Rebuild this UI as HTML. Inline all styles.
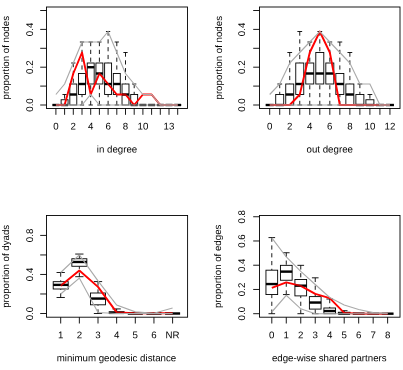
<!DOCTYPE html>
<html><head><meta charset="utf-8"><style>
html,body{margin:0;padding:0;background:#fff;}
svg{display:block;font-family:"Liberation Sans",sans-serif;opacity:0.999;}
text{fill:#000;text-rendering:geometricPrecision;}
</style></head><body>
<svg width="403" height="370" viewBox="0 0 403 370">
<rect width="403" height="370" fill="#fff"/>
<line x1="52.42" y1="105.00" x2="59.38" y2="105.00" stroke="#000" stroke-width="2.3" />
<line x1="64.60" y1="94.50" x2="64.60" y2="99.75" stroke="#000" stroke-width="0.9" stroke-dasharray="4.2,3.6"/>
<line x1="62.86" y1="94.50" x2="66.34" y2="94.50" stroke="#000" stroke-width="0.9" stroke-linecap="round"/>
<rect x="61.12" y="99.75" width="6.95" height="5.25" fill="#fff" stroke="#000" stroke-width="0.9"/>
<line x1="61.12" y1="105.00" x2="68.07" y2="105.00" stroke="#000" stroke-width="2.3" />
<line x1="73.30" y1="63.00" x2="73.30" y2="84.00" stroke="#000" stroke-width="0.9" stroke-dasharray="4.2,3.6"/>
<line x1="71.56" y1="63.00" x2="75.04" y2="63.00" stroke="#000" stroke-width="0.9" stroke-linecap="round"/>
<rect x="69.83" y="84.00" width="6.95" height="21.00" fill="#fff" stroke="#000" stroke-width="0.9"/>
<line x1="69.83" y1="94.50" x2="76.77" y2="94.50" stroke="#000" stroke-width="2.3" />
<line x1="82.00" y1="42.00" x2="82.00" y2="73.50" stroke="#000" stroke-width="0.9" stroke-dasharray="4.2,3.6"/>
<line x1="80.26" y1="42.00" x2="83.74" y2="42.00" stroke="#000" stroke-width="0.9" stroke-linecap="round"/>
<line x1="82.00" y1="105.00" x2="82.00" y2="94.50" stroke="#000" stroke-width="0.9" stroke-dasharray="4.2,3.6"/>
<line x1="80.26" y1="105.00" x2="83.74" y2="105.00" stroke="#000" stroke-width="0.9" stroke-linecap="round"/>
<rect x="78.53" y="73.50" width="6.95" height="21.00" fill="#fff" stroke="#000" stroke-width="0.9"/>
<line x1="78.53" y1="84.00" x2="85.47" y2="84.00" stroke="#000" stroke-width="2.3" />
<line x1="90.70" y1="42.00" x2="90.70" y2="63.00" stroke="#000" stroke-width="0.9" stroke-dasharray="4.2,3.6"/>
<line x1="88.96" y1="42.00" x2="92.44" y2="42.00" stroke="#000" stroke-width="0.9" stroke-linecap="round"/>
<line x1="90.70" y1="105.00" x2="90.70" y2="84.00" stroke="#000" stroke-width="0.9" stroke-dasharray="4.2,3.6"/>
<line x1="88.96" y1="105.00" x2="92.44" y2="105.00" stroke="#000" stroke-width="0.9" stroke-linecap="round"/>
<rect x="87.22" y="63.00" width="6.95" height="21.00" fill="#fff" stroke="#000" stroke-width="0.9"/>
<line x1="87.22" y1="67.20" x2="94.17" y2="67.20" stroke="#000" stroke-width="2.3" />
<line x1="99.40" y1="42.00" x2="99.40" y2="63.00" stroke="#000" stroke-width="0.9" stroke-dasharray="4.2,3.6"/>
<line x1="97.66" y1="42.00" x2="101.14" y2="42.00" stroke="#000" stroke-width="0.9" stroke-linecap="round"/>
<line x1="99.40" y1="105.00" x2="99.40" y2="84.00" stroke="#000" stroke-width="0.9" stroke-dasharray="4.2,3.6"/>
<line x1="97.66" y1="105.00" x2="101.14" y2="105.00" stroke="#000" stroke-width="0.9" stroke-linecap="round"/>
<rect x="95.93" y="63.00" width="6.95" height="21.00" fill="#fff" stroke="#000" stroke-width="0.9"/>
<line x1="95.93" y1="73.50" x2="102.88" y2="73.50" stroke="#000" stroke-width="2.3" />
<line x1="108.10" y1="31.50" x2="108.10" y2="63.00" stroke="#000" stroke-width="0.9" stroke-dasharray="4.2,3.6"/>
<line x1="106.36" y1="31.50" x2="109.84" y2="31.50" stroke="#000" stroke-width="0.9" stroke-linecap="round"/>
<line x1="108.10" y1="105.00" x2="108.10" y2="94.50" stroke="#000" stroke-width="0.9" stroke-dasharray="4.2,3.6"/>
<line x1="106.36" y1="105.00" x2="109.84" y2="105.00" stroke="#000" stroke-width="0.9" stroke-linecap="round"/>
<rect x="104.62" y="63.00" width="6.95" height="31.50" fill="#fff" stroke="#000" stroke-width="0.9"/>
<line x1="104.62" y1="84.00" x2="111.57" y2="84.00" stroke="#000" stroke-width="2.3" />
<line x1="116.80" y1="42.00" x2="116.80" y2="73.50" stroke="#000" stroke-width="0.9" stroke-dasharray="4.2,3.6"/>
<line x1="115.06" y1="42.00" x2="118.54" y2="42.00" stroke="#000" stroke-width="0.9" stroke-linecap="round"/>
<line x1="116.80" y1="105.00" x2="116.80" y2="94.50" stroke="#000" stroke-width="0.9" stroke-dasharray="4.2,3.6"/>
<line x1="115.06" y1="105.00" x2="118.54" y2="105.00" stroke="#000" stroke-width="0.9" stroke-linecap="round"/>
<rect x="113.32" y="73.50" width="6.95" height="21.00" fill="#fff" stroke="#000" stroke-width="0.9"/>
<line x1="113.32" y1="84.00" x2="120.27" y2="84.00" stroke="#000" stroke-width="2.3" />
<line x1="125.50" y1="52.50" x2="125.50" y2="84.00" stroke="#000" stroke-width="0.9" stroke-dasharray="4.2,3.6"/>
<line x1="123.76" y1="52.50" x2="127.24" y2="52.50" stroke="#000" stroke-width="0.9" stroke-linecap="round"/>
<rect x="122.03" y="84.00" width="6.95" height="21.00" fill="#fff" stroke="#000" stroke-width="0.9"/>
<line x1="122.03" y1="94.50" x2="128.97" y2="94.50" stroke="#000" stroke-width="2.3" />
<line x1="134.20" y1="84.00" x2="134.20" y2="94.50" stroke="#000" stroke-width="0.9" stroke-dasharray="4.2,3.6"/>
<line x1="132.46" y1="84.00" x2="135.94" y2="84.00" stroke="#000" stroke-width="0.9" stroke-linecap="round"/>
<rect x="130.72" y="94.50" width="6.95" height="10.50" fill="#fff" stroke="#000" stroke-width="0.9"/>
<line x1="130.72" y1="105.00" x2="137.67" y2="105.00" stroke="#000" stroke-width="2.3" />
<line x1="139.43" y1="105.00" x2="146.38" y2="105.00" stroke="#000" stroke-width="2.3" />
<line x1="148.12" y1="105.00" x2="155.07" y2="105.00" stroke="#000" stroke-width="2.3" />
<line x1="156.82" y1="105.00" x2="163.77" y2="105.00" stroke="#000" stroke-width="2.3" />
<line x1="165.53" y1="105.00" x2="172.47" y2="105.00" stroke="#000" stroke-width="2.3" />
<line x1="174.22" y1="105.00" x2="181.17" y2="105.00" stroke="#000" stroke-width="2.3" />
<polyline points="55.90,105.00 64.60,105.00 73.30,73.50 82.00,52.50 90.70,94.50 99.40,73.50 108.10,84.00 116.80,94.50 125.50,94.50 134.20,105.00 142.90,94.50 151.60,94.50 160.30,105.00 169.00,105.00 177.70,105.00" fill="none" stroke="#ff0000" stroke-width="1.9" stroke-linejoin="round"/>
<line x1="52.42" y1="105.00" x2="59.38" y2="105.00" stroke="#000" stroke-width="2.3" stroke-opacity="0.3"/>
<line x1="61.12" y1="105.00" x2="68.07" y2="105.00" stroke="#000" stroke-width="2.3" stroke-opacity="0.3"/>
<line x1="69.83" y1="94.50" x2="76.77" y2="94.50" stroke="#000" stroke-width="2.3" stroke-opacity="0.3"/>
<line x1="78.53" y1="84.00" x2="85.47" y2="84.00" stroke="#000" stroke-width="2.3" stroke-opacity="0.3"/>
<line x1="87.22" y1="67.20" x2="94.17" y2="67.20" stroke="#000" stroke-width="2.3" stroke-opacity="0.3"/>
<line x1="95.93" y1="73.50" x2="102.88" y2="73.50" stroke="#000" stroke-width="2.3" stroke-opacity="0.3"/>
<line x1="104.62" y1="84.00" x2="111.57" y2="84.00" stroke="#000" stroke-width="2.3" stroke-opacity="0.3"/>
<line x1="113.32" y1="84.00" x2="120.27" y2="84.00" stroke="#000" stroke-width="2.3" stroke-opacity="0.3"/>
<line x1="122.03" y1="94.50" x2="128.97" y2="94.50" stroke="#000" stroke-width="2.3" stroke-opacity="0.3"/>
<line x1="130.72" y1="105.00" x2="137.67" y2="105.00" stroke="#000" stroke-width="2.3" stroke-opacity="0.3"/>
<line x1="139.43" y1="105.00" x2="146.38" y2="105.00" stroke="#000" stroke-width="2.3" stroke-opacity="0.3"/>
<line x1="148.12" y1="105.00" x2="155.07" y2="105.00" stroke="#000" stroke-width="2.3" stroke-opacity="0.3"/>
<line x1="156.82" y1="105.00" x2="163.77" y2="105.00" stroke="#000" stroke-width="2.3" stroke-opacity="0.3"/>
<line x1="165.53" y1="105.00" x2="172.47" y2="105.00" stroke="#000" stroke-width="2.3" stroke-opacity="0.3"/>
<line x1="174.22" y1="105.00" x2="181.17" y2="105.00" stroke="#000" stroke-width="2.3" stroke-opacity="0.3"/>
<polyline points="55.90,94.50 64.60,84.00 73.30,63.00 82.00,42.00 90.70,42.00 99.40,42.00 108.10,31.50 116.80,52.50 125.50,73.50 134.20,84.00 142.90,94.50 151.60,94.50 160.30,105.00 169.00,105.00 177.70,105.00" fill="none" stroke="#aaaaaa" stroke-width="1.15" />
<polyline points="55.90,105.00 64.60,105.00 73.30,105.00 82.00,105.00 90.70,94.50 99.40,105.00 108.10,105.00 116.80,105.00 125.50,105.00 134.20,105.00 142.90,105.00 151.60,105.00 160.30,105.00 169.00,105.00 177.70,105.00" fill="none" stroke="#aaaaaa" stroke-width="1.15" />
<rect x="46.5" y="7.0" width="141.0" height="101.5" fill="none" stroke="#000" stroke-width="0.9"/>
<line x1="40.20" y1="105.00" x2="46.50" y2="105.00" stroke="#000" stroke-width="0.9" />
<line x1="40.20" y1="86.10" x2="46.50" y2="86.10" stroke="#000" stroke-width="0.9" />
<line x1="40.20" y1="67.20" x2="46.50" y2="67.20" stroke="#000" stroke-width="0.9" />
<line x1="40.20" y1="48.30" x2="46.50" y2="48.30" stroke="#000" stroke-width="0.9" />
<line x1="40.20" y1="29.40" x2="46.50" y2="29.40" stroke="#000" stroke-width="0.9" />
<line x1="40.20" y1="10.50" x2="46.50" y2="10.50" stroke="#000" stroke-width="0.9" />
<line x1="55.90" y1="108.50" x2="55.90" y2="114.80" stroke="#000" stroke-width="0.9" />
<line x1="64.60" y1="108.50" x2="64.60" y2="114.80" stroke="#000" stroke-width="0.9" />
<line x1="73.30" y1="108.50" x2="73.30" y2="114.80" stroke="#000" stroke-width="0.9" />
<line x1="82.00" y1="108.50" x2="82.00" y2="114.80" stroke="#000" stroke-width="0.9" />
<line x1="90.70" y1="108.50" x2="90.70" y2="114.80" stroke="#000" stroke-width="0.9" />
<line x1="99.40" y1="108.50" x2="99.40" y2="114.80" stroke="#000" stroke-width="0.9" />
<line x1="108.10" y1="108.50" x2="108.10" y2="114.80" stroke="#000" stroke-width="0.9" />
<line x1="116.80" y1="108.50" x2="116.80" y2="114.80" stroke="#000" stroke-width="0.9" />
<line x1="125.50" y1="108.50" x2="125.50" y2="114.80" stroke="#000" stroke-width="0.9" />
<line x1="134.20" y1="108.50" x2="134.20" y2="114.80" stroke="#000" stroke-width="0.9" />
<line x1="142.90" y1="108.50" x2="142.90" y2="114.80" stroke="#000" stroke-width="0.9" />
<line x1="151.60" y1="108.50" x2="151.60" y2="114.80" stroke="#000" stroke-width="0.9" />
<line x1="160.30" y1="108.50" x2="160.30" y2="114.80" stroke="#000" stroke-width="0.9" />
<line x1="169.00" y1="108.50" x2="169.00" y2="114.80" stroke="#000" stroke-width="0.9" />
<line x1="177.70" y1="108.50" x2="177.70" y2="114.80" stroke="#000" stroke-width="0.9" />
<line x1="265.70" y1="105.00" x2="273.70" y2="105.00" stroke="#000" stroke-width="2.3" />
<line x1="279.72" y1="84.00" x2="279.72" y2="94.50" stroke="#000" stroke-width="0.9" stroke-dasharray="4.2,3.6"/>
<line x1="277.72" y1="84.00" x2="281.72" y2="84.00" stroke="#000" stroke-width="0.9" stroke-linecap="round"/>
<rect x="275.72" y="94.50" width="8.00" height="10.50" fill="#fff" stroke="#000" stroke-width="0.9"/>
<line x1="275.72" y1="105.00" x2="283.72" y2="105.00" stroke="#000" stroke-width="2.3" />
<line x1="289.74" y1="52.50" x2="289.74" y2="84.00" stroke="#000" stroke-width="0.9" stroke-dasharray="4.2,3.6"/>
<line x1="287.74" y1="52.50" x2="291.74" y2="52.50" stroke="#000" stroke-width="0.9" stroke-linecap="round"/>
<rect x="285.74" y="84.00" width="8.00" height="21.00" fill="#fff" stroke="#000" stroke-width="0.9"/>
<line x1="285.74" y1="94.50" x2="293.74" y2="94.50" stroke="#000" stroke-width="2.3" />
<line x1="299.76" y1="31.50" x2="299.76" y2="63.00" stroke="#000" stroke-width="0.9" stroke-dasharray="4.2,3.6"/>
<line x1="297.76" y1="31.50" x2="301.76" y2="31.50" stroke="#000" stroke-width="0.9" stroke-linecap="round"/>
<line x1="299.76" y1="105.00" x2="299.76" y2="94.50" stroke="#000" stroke-width="0.9" stroke-dasharray="4.2,3.6"/>
<line x1="297.76" y1="105.00" x2="301.76" y2="105.00" stroke="#000" stroke-width="0.9" stroke-linecap="round"/>
<rect x="295.76" y="63.00" width="8.00" height="31.50" fill="#fff" stroke="#000" stroke-width="0.9"/>
<line x1="295.76" y1="84.00" x2="303.76" y2="84.00" stroke="#000" stroke-width="2.3" />
<line x1="309.78" y1="42.00" x2="309.78" y2="63.00" stroke="#000" stroke-width="0.9" stroke-dasharray="4.2,3.6"/>
<line x1="307.78" y1="42.00" x2="311.78" y2="42.00" stroke="#000" stroke-width="0.9" stroke-linecap="round"/>
<line x1="309.78" y1="105.00" x2="309.78" y2="84.00" stroke="#000" stroke-width="0.9" stroke-dasharray="4.2,3.6"/>
<line x1="307.78" y1="105.00" x2="311.78" y2="105.00" stroke="#000" stroke-width="0.9" stroke-linecap="round"/>
<rect x="305.78" y="63.00" width="8.00" height="21.00" fill="#fff" stroke="#000" stroke-width="0.9"/>
<line x1="305.78" y1="73.50" x2="313.78" y2="73.50" stroke="#000" stroke-width="2.3" />
<line x1="319.80" y1="31.50" x2="319.80" y2="52.50" stroke="#000" stroke-width="0.9" stroke-dasharray="4.2,3.6"/>
<line x1="317.80" y1="31.50" x2="321.80" y2="31.50" stroke="#000" stroke-width="0.9" stroke-linecap="round"/>
<line x1="319.80" y1="105.00" x2="319.80" y2="84.00" stroke="#000" stroke-width="0.9" stroke-dasharray="4.2,3.6"/>
<line x1="317.80" y1="105.00" x2="321.80" y2="105.00" stroke="#000" stroke-width="0.9" stroke-linecap="round"/>
<rect x="315.80" y="52.50" width="8.00" height="31.50" fill="#fff" stroke="#000" stroke-width="0.9"/>
<line x1="315.80" y1="73.50" x2="323.80" y2="73.50" stroke="#000" stroke-width="2.3" />
<line x1="329.82" y1="42.00" x2="329.82" y2="63.00" stroke="#000" stroke-width="0.9" stroke-dasharray="4.2,3.6"/>
<line x1="327.82" y1="42.00" x2="331.82" y2="42.00" stroke="#000" stroke-width="0.9" stroke-linecap="round"/>
<line x1="329.82" y1="105.00" x2="329.82" y2="84.00" stroke="#000" stroke-width="0.9" stroke-dasharray="4.2,3.6"/>
<line x1="327.82" y1="105.00" x2="331.82" y2="105.00" stroke="#000" stroke-width="0.9" stroke-linecap="round"/>
<rect x="325.82" y="63.00" width="8.00" height="21.00" fill="#fff" stroke="#000" stroke-width="0.9"/>
<line x1="325.82" y1="73.50" x2="333.82" y2="73.50" stroke="#000" stroke-width="2.3" />
<line x1="339.84" y1="42.00" x2="339.84" y2="73.50" stroke="#000" stroke-width="0.9" stroke-dasharray="4.2,3.6"/>
<line x1="337.84" y1="42.00" x2="341.84" y2="42.00" stroke="#000" stroke-width="0.9" stroke-linecap="round"/>
<line x1="339.84" y1="105.00" x2="339.84" y2="94.50" stroke="#000" stroke-width="0.9" stroke-dasharray="4.2,3.6"/>
<line x1="337.84" y1="105.00" x2="341.84" y2="105.00" stroke="#000" stroke-width="0.9" stroke-linecap="round"/>
<rect x="335.84" y="73.50" width="8.00" height="21.00" fill="#fff" stroke="#000" stroke-width="0.9"/>
<line x1="335.84" y1="84.00" x2="343.84" y2="84.00" stroke="#000" stroke-width="2.3" />
<line x1="349.86" y1="52.50" x2="349.86" y2="84.00" stroke="#000" stroke-width="0.9" stroke-dasharray="4.2,3.6"/>
<line x1="347.86" y1="52.50" x2="351.86" y2="52.50" stroke="#000" stroke-width="0.9" stroke-linecap="round"/>
<rect x="345.86" y="84.00" width="8.00" height="21.00" fill="#fff" stroke="#000" stroke-width="0.9"/>
<line x1="345.86" y1="94.50" x2="353.86" y2="94.50" stroke="#000" stroke-width="2.3" />
<line x1="359.88" y1="84.00" x2="359.88" y2="94.50" stroke="#000" stroke-width="0.9" stroke-dasharray="4.2,3.6"/>
<line x1="357.88" y1="84.00" x2="361.88" y2="84.00" stroke="#000" stroke-width="0.9" stroke-linecap="round"/>
<rect x="355.88" y="94.50" width="8.00" height="10.50" fill="#fff" stroke="#000" stroke-width="0.9"/>
<line x1="355.88" y1="105.00" x2="363.88" y2="105.00" stroke="#000" stroke-width="2.3" />
<line x1="369.90" y1="94.50" x2="369.90" y2="99.75" stroke="#000" stroke-width="0.9" stroke-dasharray="4.2,3.6"/>
<line x1="367.90" y1="94.50" x2="371.90" y2="94.50" stroke="#000" stroke-width="0.9" stroke-linecap="round"/>
<rect x="365.90" y="99.75" width="8.00" height="5.25" fill="#fff" stroke="#000" stroke-width="0.9"/>
<line x1="365.90" y1="105.00" x2="373.90" y2="105.00" stroke="#000" stroke-width="2.3" />
<line x1="375.92" y1="105.00" x2="383.92" y2="105.00" stroke="#000" stroke-width="2.3" />
<line x1="385.94" y1="105.00" x2="393.94" y2="105.00" stroke="#000" stroke-width="2.3" />
<polyline points="269.70,105.00 279.72,105.00 289.74,105.00 299.76,94.50 309.78,52.50 319.80,31.50 329.82,52.50 339.84,105.00 349.86,105.00 359.88,105.00 369.90,105.00 379.92,105.00 389.94,105.00" fill="none" stroke="#ff0000" stroke-width="1.9" stroke-linejoin="round"/>
<line x1="265.70" y1="105.00" x2="273.70" y2="105.00" stroke="#000" stroke-width="2.3" stroke-opacity="0.3"/>
<line x1="275.72" y1="105.00" x2="283.72" y2="105.00" stroke="#000" stroke-width="2.3" stroke-opacity="0.3"/>
<line x1="285.74" y1="94.50" x2="293.74" y2="94.50" stroke="#000" stroke-width="2.3" stroke-opacity="0.3"/>
<line x1="295.76" y1="84.00" x2="303.76" y2="84.00" stroke="#000" stroke-width="2.3" stroke-opacity="0.3"/>
<line x1="305.78" y1="73.50" x2="313.78" y2="73.50" stroke="#000" stroke-width="2.3" stroke-opacity="0.3"/>
<line x1="315.80" y1="73.50" x2="323.80" y2="73.50" stroke="#000" stroke-width="2.3" stroke-opacity="0.3"/>
<line x1="325.82" y1="73.50" x2="333.82" y2="73.50" stroke="#000" stroke-width="2.3" stroke-opacity="0.3"/>
<line x1="335.84" y1="84.00" x2="343.84" y2="84.00" stroke="#000" stroke-width="2.3" stroke-opacity="0.3"/>
<line x1="345.86" y1="94.50" x2="353.86" y2="94.50" stroke="#000" stroke-width="2.3" stroke-opacity="0.3"/>
<line x1="355.88" y1="105.00" x2="363.88" y2="105.00" stroke="#000" stroke-width="2.3" stroke-opacity="0.3"/>
<line x1="365.90" y1="105.00" x2="373.90" y2="105.00" stroke="#000" stroke-width="2.3" stroke-opacity="0.3"/>
<line x1="375.92" y1="105.00" x2="383.92" y2="105.00" stroke="#000" stroke-width="2.3" stroke-opacity="0.3"/>
<line x1="385.94" y1="105.00" x2="393.94" y2="105.00" stroke="#000" stroke-width="2.3" stroke-opacity="0.3"/>
<polyline points="269.70,94.50 279.72,84.00 289.74,63.00 299.76,52.50 309.78,42.00 319.80,31.50 329.82,42.00 339.84,52.50 349.86,63.00 359.88,84.00 369.90,84.00 379.92,105.00 389.94,105.00" fill="none" stroke="#aaaaaa" stroke-width="1.15" />
<polyline points="269.70,105.00 279.72,105.00 289.74,105.00 299.76,105.00 309.78,105.00 319.80,105.00 329.82,105.00 339.84,105.00 349.86,105.00 359.88,105.00 369.90,105.00 379.92,105.00 389.94,105.00" fill="none" stroke="#aaaaaa" stroke-width="1.15" />
<rect x="259.5" y="7.0" width="140.5" height="101.5" fill="none" stroke="#000" stroke-width="0.9"/>
<line x1="253.20" y1="105.00" x2="259.50" y2="105.00" stroke="#000" stroke-width="0.9" />
<line x1="253.20" y1="86.10" x2="259.50" y2="86.10" stroke="#000" stroke-width="0.9" />
<line x1="253.20" y1="67.20" x2="259.50" y2="67.20" stroke="#000" stroke-width="0.9" />
<line x1="253.20" y1="48.30" x2="259.50" y2="48.30" stroke="#000" stroke-width="0.9" />
<line x1="253.20" y1="29.40" x2="259.50" y2="29.40" stroke="#000" stroke-width="0.9" />
<line x1="253.20" y1="10.50" x2="259.50" y2="10.50" stroke="#000" stroke-width="0.9" />
<line x1="269.70" y1="108.50" x2="269.70" y2="114.80" stroke="#000" stroke-width="0.9" />
<line x1="279.72" y1="108.50" x2="279.72" y2="114.80" stroke="#000" stroke-width="0.9" />
<line x1="289.74" y1="108.50" x2="289.74" y2="114.80" stroke="#000" stroke-width="0.9" />
<line x1="299.76" y1="108.50" x2="299.76" y2="114.80" stroke="#000" stroke-width="0.9" />
<line x1="309.78" y1="108.50" x2="309.78" y2="114.80" stroke="#000" stroke-width="0.9" />
<line x1="319.80" y1="108.50" x2="319.80" y2="114.80" stroke="#000" stroke-width="0.9" />
<line x1="329.82" y1="108.50" x2="329.82" y2="114.80" stroke="#000" stroke-width="0.9" />
<line x1="339.84" y1="108.50" x2="339.84" y2="114.80" stroke="#000" stroke-width="0.9" />
<line x1="349.86" y1="108.50" x2="349.86" y2="114.80" stroke="#000" stroke-width="0.9" />
<line x1="359.88" y1="108.50" x2="359.88" y2="114.80" stroke="#000" stroke-width="0.9" />
<line x1="369.90" y1="108.50" x2="369.90" y2="114.80" stroke="#000" stroke-width="0.9" />
<line x1="379.92" y1="108.50" x2="379.92" y2="114.80" stroke="#000" stroke-width="0.9" />
<line x1="389.94" y1="108.50" x2="389.94" y2="114.80" stroke="#000" stroke-width="0.9" />
<line x1="60.70" y1="272.51" x2="60.70" y2="281.68" stroke="#000" stroke-width="0.9" stroke-dasharray="4.2,3.6"/>
<line x1="56.95" y1="272.51" x2="64.45" y2="272.51" stroke="#000" stroke-width="0.9" stroke-linecap="round"/>
<line x1="60.70" y1="297.49" x2="60.70" y2="289.00" stroke="#000" stroke-width="0.9" stroke-dasharray="4.2,3.6"/>
<line x1="56.95" y1="297.49" x2="64.45" y2="297.49" stroke="#000" stroke-width="0.9" stroke-linecap="round"/>
<rect x="53.20" y="281.68" width="15.00" height="7.32" fill="#fff" stroke="#000" stroke-width="0.9"/>
<line x1="53.20" y1="284.90" x2="68.20" y2="284.90" stroke="#000" stroke-width="2.3" />
<line x1="79.35" y1="254.06" x2="79.35" y2="258.75" stroke="#000" stroke-width="0.9" stroke-dasharray="4.2,3.6"/>
<line x1="75.60" y1="254.06" x2="83.10" y2="254.06" stroke="#000" stroke-width="0.9" stroke-linecap="round"/>
<line x1="79.35" y1="276.70" x2="79.35" y2="266.26" stroke="#000" stroke-width="0.9" stroke-dasharray="4.2,3.6"/>
<line x1="75.60" y1="276.70" x2="83.10" y2="276.70" stroke="#000" stroke-width="0.9" stroke-linecap="round"/>
<rect x="71.85" y="258.75" width="15.00" height="7.52" fill="#fff" stroke="#000" stroke-width="0.9"/>
<line x1="71.85" y1="261.97" x2="86.85" y2="261.97" stroke="#000" stroke-width="2.3" />
<line x1="98.00" y1="281.58" x2="98.00" y2="293.00" stroke="#000" stroke-width="0.9" stroke-dasharray="4.2,3.6"/>
<line x1="94.25" y1="281.58" x2="101.75" y2="281.58" stroke="#000" stroke-width="0.9" stroke-linecap="round"/>
<line x1="98.00" y1="313.50" x2="98.00" y2="304.81" stroke="#000" stroke-width="0.9" stroke-dasharray="4.2,3.6"/>
<line x1="94.25" y1="313.50" x2="101.75" y2="313.50" stroke="#000" stroke-width="0.9" stroke-linecap="round"/>
<rect x="90.50" y="293.00" width="15.00" height="11.81" fill="#fff" stroke="#000" stroke-width="0.9"/>
<line x1="90.50" y1="298.57" x2="105.50" y2="298.57" stroke="#000" stroke-width="2.3" />
<line x1="116.65" y1="308.91" x2="116.65" y2="311.74" stroke="#000" stroke-width="0.9" stroke-dasharray="4.2,3.6"/>
<line x1="112.90" y1="308.91" x2="120.40" y2="308.91" stroke="#000" stroke-width="0.9" stroke-linecap="round"/>
<rect x="109.15" y="311.74" width="15.00" height="1.76" fill="#fff" stroke="#000" stroke-width="0.9"/>
<line x1="109.15" y1="312.91" x2="124.15" y2="312.91" stroke="#000" stroke-width="2.3" />
<line x1="135.30" y1="313.11" x2="135.30" y2="313.30" stroke="#000" stroke-width="0.9" stroke-dasharray="4.2,3.6"/>
<line x1="131.55" y1="313.11" x2="139.05" y2="313.11" stroke="#000" stroke-width="0.9" stroke-linecap="round"/>
<rect x="127.80" y="313.30" width="15.00" height="0.20" fill="#fff" stroke="#000" stroke-width="0.9"/>
<line x1="127.80" y1="313.50" x2="142.80" y2="313.50" stroke="#000" stroke-width="2.3" />
<line x1="146.45" y1="313.50" x2="161.45" y2="313.50" stroke="#000" stroke-width="2.3" />
<line x1="165.10" y1="313.50" x2="180.10" y2="313.50" stroke="#000" stroke-width="2.3" />
<polyline points="60.70,285.78 79.35,270.56 98.00,286.86 116.65,312.43 135.30,313.21 153.95,313.21 172.60,313.21" fill="none" stroke="#ff0000" stroke-width="1.9" stroke-linejoin="round"/>
<line x1="53.20" y1="284.90" x2="68.20" y2="284.90" stroke="#000" stroke-width="2.3" stroke-opacity="0.3"/>
<line x1="71.85" y1="261.97" x2="86.85" y2="261.97" stroke="#000" stroke-width="2.3" stroke-opacity="0.3"/>
<line x1="90.50" y1="298.57" x2="105.50" y2="298.57" stroke="#000" stroke-width="2.3" stroke-opacity="0.3"/>
<line x1="109.15" y1="312.91" x2="124.15" y2="312.91" stroke="#000" stroke-width="2.3" stroke-opacity="0.3"/>
<line x1="127.80" y1="313.50" x2="142.80" y2="313.50" stroke="#000" stroke-width="2.3" stroke-opacity="0.3"/>
<line x1="146.45" y1="313.50" x2="161.45" y2="313.50" stroke="#000" stroke-width="2.3" stroke-opacity="0.3"/>
<line x1="165.10" y1="313.50" x2="180.10" y2="313.50" stroke="#000" stroke-width="2.3" stroke-opacity="0.3"/>
<polyline points="60.70,272.51 79.35,254.94 98.00,280.80 116.65,305.11 135.30,311.84 153.95,313.21 172.60,308.03" fill="none" stroke="#aaaaaa" stroke-width="1.15" />
<polyline points="60.70,293.98 79.35,278.07 98.00,312.52 116.65,313.50 135.30,313.50 153.95,313.50 172.60,313.50" fill="none" stroke="#aaaaaa" stroke-width="1.15" />
<rect x="46.5" y="215.5" width="141.1" height="101.69999999999999" fill="none" stroke="#000" stroke-width="0.9"/>
<line x1="40.20" y1="313.50" x2="46.50" y2="313.50" stroke="#000" stroke-width="0.9" />
<line x1="40.20" y1="293.98" x2="46.50" y2="293.98" stroke="#000" stroke-width="0.9" />
<line x1="40.20" y1="274.46" x2="46.50" y2="274.46" stroke="#000" stroke-width="0.9" />
<line x1="40.20" y1="254.94" x2="46.50" y2="254.94" stroke="#000" stroke-width="0.9" />
<line x1="40.20" y1="235.42" x2="46.50" y2="235.42" stroke="#000" stroke-width="0.9" />
<line x1="60.70" y1="317.20" x2="60.70" y2="323.50" stroke="#000" stroke-width="0.9" />
<line x1="79.35" y1="317.20" x2="79.35" y2="323.50" stroke="#000" stroke-width="0.9" />
<line x1="98.00" y1="317.20" x2="98.00" y2="323.50" stroke="#000" stroke-width="0.9" />
<line x1="116.65" y1="317.20" x2="116.65" y2="323.50" stroke="#000" stroke-width="0.9" />
<line x1="135.30" y1="317.20" x2="135.30" y2="323.50" stroke="#000" stroke-width="0.9" />
<line x1="153.95" y1="317.20" x2="153.95" y2="323.50" stroke="#000" stroke-width="0.9" />
<line x1="172.60" y1="317.20" x2="172.60" y2="323.50" stroke="#000" stroke-width="0.9" />
<line x1="271.80" y1="237.59" x2="271.80" y2="270.19" stroke="#000" stroke-width="0.9" stroke-dasharray="4.2,3.6"/>
<line x1="268.88" y1="237.59" x2="274.73" y2="237.59" stroke="#000" stroke-width="0.9" stroke-linecap="round"/>
<line x1="271.80" y1="313.70" x2="271.80" y2="294.55" stroke="#000" stroke-width="0.9" stroke-dasharray="4.2,3.6"/>
<line x1="268.88" y1="313.70" x2="274.73" y2="313.70" stroke="#000" stroke-width="0.9" stroke-linecap="round"/>
<rect x="265.95" y="270.19" width="11.70" height="24.36" fill="#fff" stroke="#000" stroke-width="0.9"/>
<line x1="265.95" y1="284.04" x2="277.65" y2="284.04" stroke="#000" stroke-width="2.3" />
<line x1="286.28" y1="252.74" x2="286.28" y2="265.34" stroke="#000" stroke-width="0.9" stroke-dasharray="4.2,3.6"/>
<line x1="283.36" y1="252.74" x2="289.21" y2="252.74" stroke="#000" stroke-width="0.9" stroke-linecap="round"/>
<line x1="286.28" y1="294.55" x2="286.28" y2="280.25" stroke="#000" stroke-width="0.9" stroke-dasharray="4.2,3.6"/>
<line x1="283.36" y1="294.55" x2="289.21" y2="294.55" stroke="#000" stroke-width="0.9" stroke-linecap="round"/>
<rect x="280.43" y="265.34" width="11.70" height="14.91" fill="#fff" stroke="#000" stroke-width="0.9"/>
<line x1="280.43" y1="271.64" x2="292.13" y2="271.64" stroke="#000" stroke-width="2.3" />
<line x1="300.76" y1="265.34" x2="300.76" y2="279.52" stroke="#000" stroke-width="0.9" stroke-dasharray="4.2,3.6"/>
<line x1="297.83" y1="265.34" x2="303.69" y2="265.34" stroke="#000" stroke-width="0.9" stroke-linecap="round"/>
<line x1="300.76" y1="313.70" x2="300.76" y2="295.88" stroke="#000" stroke-width="0.9" stroke-dasharray="4.2,3.6"/>
<line x1="297.83" y1="313.70" x2="303.69" y2="313.70" stroke="#000" stroke-width="0.9" stroke-linecap="round"/>
<rect x="294.91" y="279.52" width="11.70" height="16.36" fill="#fff" stroke="#000" stroke-width="0.9"/>
<line x1="294.91" y1="285.70" x2="306.61" y2="285.70" stroke="#000" stroke-width="2.3" />
<line x1="315.24" y1="277.82" x2="315.24" y2="296.61" stroke="#000" stroke-width="0.9" stroke-dasharray="4.2,3.6"/>
<line x1="312.31" y1="277.82" x2="318.17" y2="277.82" stroke="#000" stroke-width="0.9" stroke-linecap="round"/>
<line x1="315.24" y1="313.70" x2="315.24" y2="309.09" stroke="#000" stroke-width="0.9" stroke-dasharray="4.2,3.6"/>
<line x1="312.31" y1="313.70" x2="318.17" y2="313.70" stroke="#000" stroke-width="0.9" stroke-linecap="round"/>
<rect x="309.39" y="296.61" width="11.70" height="12.48" fill="#fff" stroke="#000" stroke-width="0.9"/>
<line x1="309.39" y1="302.55" x2="321.09" y2="302.55" stroke="#000" stroke-width="2.3" />
<line x1="329.72" y1="299.03" x2="329.72" y2="308.00" stroke="#000" stroke-width="0.9" stroke-dasharray="4.2,3.6"/>
<line x1="326.80" y1="299.03" x2="332.65" y2="299.03" stroke="#000" stroke-width="0.9" stroke-linecap="round"/>
<rect x="323.87" y="308.00" width="11.70" height="5.70" fill="#fff" stroke="#000" stroke-width="0.9"/>
<line x1="323.87" y1="311.03" x2="335.57" y2="311.03" stroke="#000" stroke-width="2.3" />
<line x1="344.20" y1="310.67" x2="344.20" y2="312.25" stroke="#000" stroke-width="0.9" stroke-dasharray="4.2,3.6"/>
<line x1="341.28" y1="310.67" x2="347.13" y2="310.67" stroke="#000" stroke-width="0.9" stroke-linecap="round"/>
<rect x="338.35" y="312.25" width="11.70" height="1.45" fill="#fff" stroke="#000" stroke-width="0.9"/>
<line x1="338.35" y1="313.70" x2="350.05" y2="313.70" stroke="#000" stroke-width="2.3" />
<line x1="352.83" y1="313.70" x2="364.53" y2="313.70" stroke="#000" stroke-width="2.3" />
<line x1="367.31" y1="313.70" x2="379.01" y2="313.70" stroke="#000" stroke-width="2.3" />
<line x1="381.79" y1="313.70" x2="393.49" y2="313.70" stroke="#000" stroke-width="2.3" />
<polyline points="271.80,287.88 286.28,282.35 300.76,285.82 315.24,293.94 329.72,298.19 344.20,312.85 358.68,313.70 373.16,313.70 387.64,313.70" fill="none" stroke="#ff0000" stroke-width="1.9" stroke-linejoin="round"/>
<line x1="265.95" y1="284.04" x2="277.65" y2="284.04" stroke="#000" stroke-width="2.3" stroke-opacity="0.3"/>
<line x1="280.43" y1="271.64" x2="292.13" y2="271.64" stroke="#000" stroke-width="2.3" stroke-opacity="0.3"/>
<line x1="294.91" y1="285.70" x2="306.61" y2="285.70" stroke="#000" stroke-width="2.3" stroke-opacity="0.3"/>
<line x1="309.39" y1="302.55" x2="321.09" y2="302.55" stroke="#000" stroke-width="2.3" stroke-opacity="0.3"/>
<line x1="323.87" y1="311.03" x2="335.57" y2="311.03" stroke="#000" stroke-width="2.3" stroke-opacity="0.3"/>
<line x1="338.35" y1="313.70" x2="350.05" y2="313.70" stroke="#000" stroke-width="2.3" stroke-opacity="0.3"/>
<line x1="352.83" y1="313.70" x2="364.53" y2="313.70" stroke="#000" stroke-width="2.3" stroke-opacity="0.3"/>
<line x1="367.31" y1="313.70" x2="379.01" y2="313.70" stroke="#000" stroke-width="2.3" stroke-opacity="0.3"/>
<line x1="381.79" y1="313.70" x2="393.49" y2="313.70" stroke="#000" stroke-width="2.3" stroke-opacity="0.3"/>
<polyline points="271.80,237.95 286.28,256.98 300.76,271.40 315.24,284.49 329.72,297.46 344.20,304.97 358.68,309.46 373.16,312.61 387.64,313.09" fill="none" stroke="#aaaaaa" stroke-width="1.15" />
<polyline points="271.80,312.00 286.28,295.28 300.76,308.85 315.24,313.70 329.72,313.70 344.20,313.70 358.68,313.70 373.16,313.70 387.64,313.70" fill="none" stroke="#aaaaaa" stroke-width="1.15" />
<rect x="259.5" y="215.5" width="140.5" height="101.69999999999999" fill="none" stroke="#000" stroke-width="0.9"/>
<line x1="253.20" y1="313.70" x2="259.50" y2="313.70" stroke="#000" stroke-width="0.9" />
<line x1="253.20" y1="289.46" x2="259.50" y2="289.46" stroke="#000" stroke-width="0.9" />
<line x1="253.20" y1="265.22" x2="259.50" y2="265.22" stroke="#000" stroke-width="0.9" />
<line x1="253.20" y1="240.98" x2="259.50" y2="240.98" stroke="#000" stroke-width="0.9" />
<line x1="253.20" y1="216.74" x2="259.50" y2="216.74" stroke="#000" stroke-width="0.9" />
<line x1="271.80" y1="317.20" x2="271.80" y2="323.50" stroke="#000" stroke-width="0.9" />
<line x1="286.28" y1="317.20" x2="286.28" y2="323.50" stroke="#000" stroke-width="0.9" />
<line x1="300.76" y1="317.20" x2="300.76" y2="323.50" stroke="#000" stroke-width="0.9" />
<line x1="315.24" y1="317.20" x2="315.24" y2="323.50" stroke="#000" stroke-width="0.9" />
<line x1="329.72" y1="317.20" x2="329.72" y2="323.50" stroke="#000" stroke-width="0.9" />
<line x1="344.20" y1="317.20" x2="344.20" y2="323.50" stroke="#000" stroke-width="0.9" />
<line x1="358.68" y1="317.20" x2="358.68" y2="323.50" stroke="#000" stroke-width="0.9" />
<line x1="373.16" y1="317.20" x2="373.16" y2="323.50" stroke="#000" stroke-width="0.9" />
<line x1="387.64" y1="317.20" x2="387.64" y2="323.50" stroke="#000" stroke-width="0.9" />
<defs><filter id="gs" x="0" y="0" width="100%" height="100%" filterUnits="userSpaceOnUse" color-interpolation-filters="sRGB"><feColorMatrix type="saturate" values="0"/></filter></defs>
<g filter="url(#gs)">
<text x="32.80" y="105.00" text-anchor="middle" font-size="9.7" transform="rotate(-90 32.80 105.00)">0.0</text>
<text x="32.80" y="67.20" text-anchor="middle" font-size="9.7" transform="rotate(-90 32.80 67.20)">0.2</text>
<text x="32.80" y="29.40" text-anchor="middle" font-size="9.7" transform="rotate(-90 32.80 29.40)">0.4</text>
<text x="55.90" y="129.60" text-anchor="middle" font-size="9.7" transform="rotate(0.03 55.90 129.60)">0</text>
<text x="73.30" y="129.60" text-anchor="middle" font-size="9.7" transform="rotate(0.03 73.30 129.60)">2</text>
<text x="90.70" y="129.60" text-anchor="middle" font-size="9.7" transform="rotate(0.03 90.70 129.60)">4</text>
<text x="108.10" y="129.60" text-anchor="middle" font-size="9.7" transform="rotate(0.03 108.10 129.60)">6</text>
<text x="125.50" y="129.60" text-anchor="middle" font-size="9.7" transform="rotate(0.03 125.50 129.60)">8</text>
<text x="142.90" y="129.60" text-anchor="middle" font-size="9.7" transform="rotate(0.03 142.90 129.60)">10</text>
<text x="169.00" y="129.60" text-anchor="middle" font-size="9.7" transform="rotate(0.03 169.00 129.60)">13</text>
<text x="117.00" y="152.50" text-anchor="middle" font-size="9.7" transform="rotate(0.03 117.00 152.50)">in degree</text>
<text x="9.10" y="57.75" text-anchor="middle" font-size="9.7" transform="rotate(-90 9.10 57.75)">proportion of nodes</text>
<text x="244.80" y="105.00" text-anchor="middle" font-size="9.7" transform="rotate(-90 244.80 105.00)">0.0</text>
<text x="244.80" y="67.20" text-anchor="middle" font-size="9.7" transform="rotate(-90 244.80 67.20)">0.2</text>
<text x="244.80" y="29.40" text-anchor="middle" font-size="9.7" transform="rotate(-90 244.80 29.40)">0.4</text>
<text x="269.70" y="129.60" text-anchor="middle" font-size="9.7" transform="rotate(0.03 269.70 129.60)">0</text>
<text x="289.74" y="129.60" text-anchor="middle" font-size="9.7" transform="rotate(0.03 289.74 129.60)">2</text>
<text x="309.78" y="129.60" text-anchor="middle" font-size="9.7" transform="rotate(0.03 309.78 129.60)">4</text>
<text x="329.82" y="129.60" text-anchor="middle" font-size="9.7" transform="rotate(0.03 329.82 129.60)">6</text>
<text x="349.86" y="129.60" text-anchor="middle" font-size="9.7" transform="rotate(0.03 349.86 129.60)">8</text>
<text x="369.90" y="129.60" text-anchor="middle" font-size="9.7" transform="rotate(0.03 369.90 129.60)">10</text>
<text x="389.94" y="129.60" text-anchor="middle" font-size="9.7" transform="rotate(0.03 389.94 129.60)">12</text>
<text x="329.75" y="152.50" text-anchor="middle" font-size="9.7" transform="rotate(0.03 329.75 152.50)">out degree</text>
<text x="221.50" y="57.75" text-anchor="middle" font-size="9.7" transform="rotate(-90 221.50 57.75)">proportion of nodes</text>
<text x="32.80" y="313.50" text-anchor="middle" font-size="9.7" transform="rotate(-90 32.80 313.50)">0.0</text>
<text x="32.80" y="274.46" text-anchor="middle" font-size="9.7" transform="rotate(-90 32.80 274.46)">0.4</text>
<text x="32.80" y="235.42" text-anchor="middle" font-size="9.7" transform="rotate(-90 32.80 235.42)">0.8</text>
<text x="60.70" y="338.30" text-anchor="middle" font-size="9.7" transform="rotate(0.03 60.70 338.30)">1</text>
<text x="79.35" y="338.30" text-anchor="middle" font-size="9.7" transform="rotate(0.03 79.35 338.30)">2</text>
<text x="98.00" y="338.30" text-anchor="middle" font-size="9.7" transform="rotate(0.03 98.00 338.30)">3</text>
<text x="116.65" y="338.30" text-anchor="middle" font-size="9.7" transform="rotate(0.03 116.65 338.30)">4</text>
<text x="135.30" y="338.30" text-anchor="middle" font-size="9.7" transform="rotate(0.03 135.30 338.30)">5</text>
<text x="153.95" y="338.30" text-anchor="middle" font-size="9.7" transform="rotate(0.03 153.95 338.30)">6</text>
<text x="172.60" y="338.30" text-anchor="middle" font-size="9.7" transform="rotate(0.03 172.60 338.30)">NR</text>
<text x="116.45" y="361.20" text-anchor="middle" font-size="9.7" transform="rotate(0.03 116.45 361.20)">minimum geodesic distance</text>
<text x="8.90" y="266.35" text-anchor="middle" font-size="9.7" transform="rotate(-90 8.90 266.35)">proportion of dyads</text>
<text x="244.80" y="313.70" text-anchor="middle" font-size="9.7" transform="rotate(-90 244.80 313.70)">0.0</text>
<text x="244.80" y="289.46" text-anchor="middle" font-size="9.7" transform="rotate(-90 244.80 289.46)">0.2</text>
<text x="244.80" y="265.22" text-anchor="middle" font-size="9.7" transform="rotate(-90 244.80 265.22)">0.4</text>
<text x="244.80" y="240.98" text-anchor="middle" font-size="9.7" transform="rotate(-90 244.80 240.98)">0.6</text>
<text x="244.80" y="216.74" text-anchor="middle" font-size="9.7" transform="rotate(-90 244.80 216.74)">0.8</text>
<text x="271.80" y="338.30" text-anchor="middle" font-size="9.7" transform="rotate(0.03 271.80 338.30)">0</text>
<text x="286.28" y="338.30" text-anchor="middle" font-size="9.7" transform="rotate(0.03 286.28 338.30)">1</text>
<text x="300.76" y="338.30" text-anchor="middle" font-size="9.7" transform="rotate(0.03 300.76 338.30)">2</text>
<text x="315.24" y="338.30" text-anchor="middle" font-size="9.7" transform="rotate(0.03 315.24 338.30)">3</text>
<text x="329.72" y="338.30" text-anchor="middle" font-size="9.7" transform="rotate(0.03 329.72 338.30)">4</text>
<text x="344.20" y="338.30" text-anchor="middle" font-size="9.7" transform="rotate(0.03 344.20 338.30)">5</text>
<text x="358.68" y="338.30" text-anchor="middle" font-size="9.7" transform="rotate(0.03 358.68 338.30)">6</text>
<text x="373.16" y="338.30" text-anchor="middle" font-size="9.7" transform="rotate(0.03 373.16 338.30)">7</text>
<text x="387.64" y="338.30" text-anchor="middle" font-size="9.7" transform="rotate(0.03 387.64 338.30)">8</text>
<text x="329.25" y="361.20" text-anchor="middle" font-size="9.7" transform="rotate(0.03 329.25 361.20)">edge-wise shared partners</text>
<text x="221.50" y="266.35" text-anchor="middle" font-size="9.7" transform="rotate(-90 221.50 266.35)">proportion of edges</text>
</g>
</svg></body></html>
